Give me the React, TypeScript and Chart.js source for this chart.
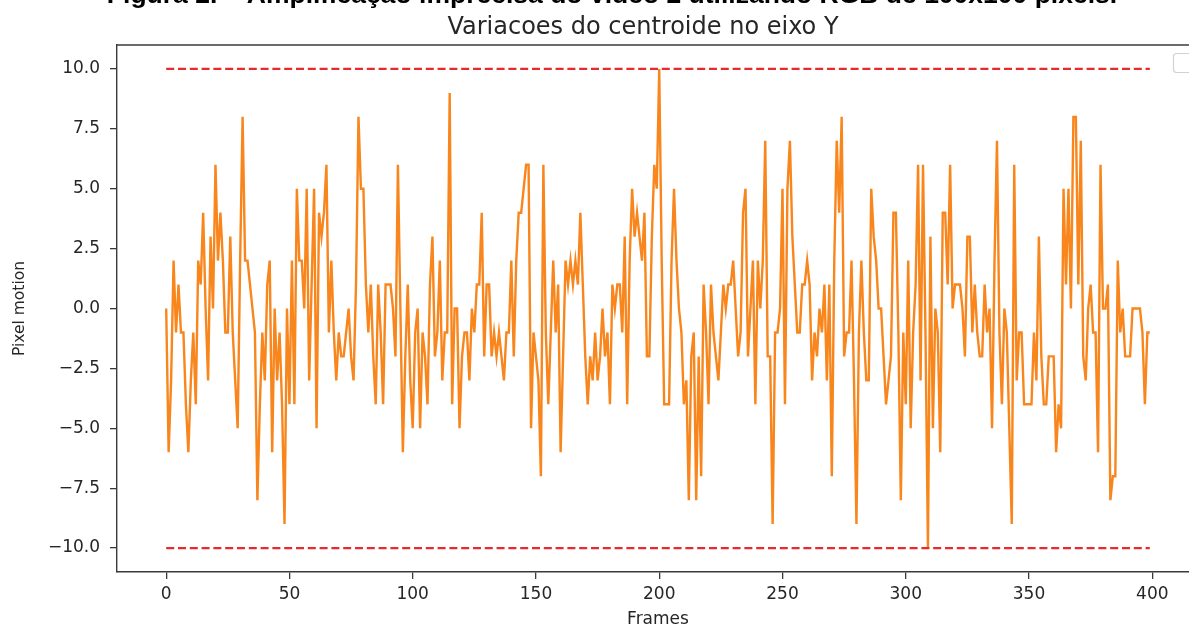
import React, { useEffect, useRef } from "react";
import { Chart, registerables } from "chart.js";

Chart.register(...registerables);

// ---- data ----
const captionText = "Figura 2. – Amplificação imprecisa do vídeo 2 utilizando RGB de 100x100 pixels.";
const chartTitle = "Variacoes do centroide no eixo Y";
const xAxisLabel = "Frames";
const yAxisLabel = "Pixel motion";

const xTicks = [0, 50, 100, 150, 200, 250, 300, 350, 400];
const yTicks = [-10, -7.5, -5, -2.5, 0, 2.5, 5, 7.5, 10];

const upperLimit = 10;
const lowerLimit = -10;

const motionY = [
  0, -6, -3, 2, -1, 1, -1, -1, -4, -6,
  -3, -1, -4, 2, 1, 4, 0, -3, 3, 0,
  6, 2, 4, 2, -1, -1, 3, -1, -3, -5,
  2, 8, 2, 2, 1, 0, -1, -8, -4, -1,
  -3, 1, 2, -6, 0, -3, -1, -4, -9,
  0, -4, 2, -4, 5, 2, 2, 0, 5, -3,
  1, 5, -5, 4, 3, 4, 6, -1, 2, -1,
  -3, -1, -2, -2, -1, 0, -2, -3, 1, 8,
  5, 5, 1, -1, 1, -2, -4, 1, -1, -4,
  1, 1, 1, 0, -2, 6, 0, -6, -2, 1,
  -3, -5, -1, 0, -5, -1, -2, -4, 1, 3,
  -2, -1, 2, -3, -1, -1, 9, -4, 0, 0,
  -5, -2, -1, -1, -3, 0, -1, 1, 1, 4,
  -2, 1, 1, -2, -1, -2, -1, -2, -3, -1,
  -1, 2, -2, 2, 4, 4, 5, 6, 6, -5, -1,
  -2, -3, -7, 6, -1, -4, -1, 2, -1, 1,
  -6, -2, 2, 1, 2, 1, 2, 1, 4, 1,
  -2, -4, -2, -3, -1, -3, -2, 0, -2, -1,
  -4, 1, 0, 1, 1, -1, 3, -4, 2, 5,
  3, 4, 3, 2, 4, -2, -2, 3, 6, 5, 10,
  2, -4, -4, -4, 2, 5, 2, 0, -1, -4,
  -3, -8, -2, -1, -8, -2, -7, 1, -1, -4,
  1, -1, -2, -3, -1, 1, 0, 1, 1, 2,
  0, -2, -1, 4, 5, -2, 0, 2, -4, 2,
  0, 2, 7, -2, -2, -9, -1, -1, 0, 5,
  -4, 5, 7, 3, 1, -1, -1, 1, 1, 2,
  1, -3, -1, -2, 0, -1, 1, -3, 1, -7,
  2, 7, 4, 8, -2, -1, -1, 2, -3, -9,
  -1, 2, -1, -3, -3, 5, 3, 2, 0, 0,
  -2, -4, -3, -2, 4, 4, -1, -8, -1, -4, 2,
  -5, -1, 1, 6, -3, 6, -1, -10, 3, -5,
  0, -1, -6, 4, 4, 1, 6, 0, 1, 1,
  1, 0, -2, 3, 3, -1, 1, -1, -2, -2,
  1, -1, 0, -5, 2, 7, -1, -4, 0, -1,
  -5, -9, 6, -3, -1, -1, -4, -4, -4, -4,
  -1, -3, 3, -2, -4, -4, -2, -2, -2, -6,
  -4, -5, 5, 1, 5, 0, 8, 8, 1, 7,
  -2, -3, 0, 1, -1, -1, -6, 6, 0, 0,
  1, -8, -7, -7, 2, -1, 0, -2, -2, -2,
  0, 0, 0, 0, -1, -4, -1, -1,
];

const CANVAS_W = 1215;
const CANVAS_H = 630;

const fmtY = (v: number) => {
  const s = Number(v).toFixed(1);
  return v < 0 ? "\u2212" + s.slice(1) : s;
};

const decorPlugin = {
  id: "decor",
  beforeDraw(chart: any) {
    const ctx = chart.ctx;
    ctx.save();
    ctx.fillStyle = "#ffffff";
    ctx.fillRect(0, 0, chart.width, chart.height);
    ctx.restore();
  },
  afterDraw(chart: any) {
    const ctx = chart.ctx;
    const area = chart.chartArea;
    ctx.save();
    // caption (cut off at top)
    ctx.fillStyle = "#000000";
    ctx.font = "bold 20px 'Liberation Sans', Arial, sans-serif";
    const w20 = ctx.measureText(captionText).width;
    const size = (20 * 1011) / w20;
    ctx.font = `bold ${size}px 'Liberation Sans', Arial, sans-serif`;
    ctx.textAlign = "center";
    ctx.textBaseline = "alphabetic";
    ctx.fillText(captionText, 612, 3);
    // title
    ctx.fillStyle = "#262626";
    ctx.font = "24px 'DejaVu Sans', sans-serif";
    ctx.textBaseline = "middle";
    ctx.fillText(chartTitle, 643, 28);
    // top spine
    ctx.strokeStyle = "#3a3a3a";
    ctx.lineWidth = 1.4;
    ctx.beginPath();
    ctx.moveTo(area.left, area.top);
    ctx.lineTo(area.right, area.top);
    ctx.stroke();
    // empty legend box
    ctx.strokeStyle = "#d2d2d2";
    ctx.lineWidth = 1.2;
    ctx.beginPath();
    ctx.roundRect(1173.5, 53.5, 30, 19, 3);
    ctx.stroke();
    ctx.restore();
  },
};

export default function App() {
  const ref = useRef<HTMLCanvasElement | null>(null);
  useEffect(() => {
    if (!ref.current) return;
    const chart = new Chart(ref.current, {
      type: "line",
      data: {
        datasets: [
          {
            label: "motion",
            data: motionY.map((v, i) => ({ x: i, y: v })),
            borderColor: "#f8861c",
            borderWidth: 2.4,
            pointRadius: 0,
            tension: 0,
            order: 2,
          },
          {
            label: "upper",
            data: [
              { x: 0, y: upperLimit },
              { x: motionY.length - 1, y: upperLimit },
            ],
            borderColor: "#e52b2b",
            borderWidth: 2.2,
            borderDash: [8, 3.8],
            pointRadius: 0,
            order: 1,
          },
          {
            label: "lower",
            data: [
              { x: 0, y: lowerLimit },
              { x: motionY.length - 1, y: lowerLimit },
            ],
            borderColor: "#e52b2b",
            borderWidth: 2.2,
            borderDash: [8, 3.8],
            pointRadius: 0,
            order: 1,
          },
        ],
      },
      options: {
        responsive: false,
        animation: false,
        devicePixelRatio: 1,
        layout: { padding: { top: 45, left: 0, right: CANVAS_W - 1199, bottom: 0 } },
        plugins: {
          legend: { display: false },
          title: { display: false },
          tooltip: { enabled: false },
        },
        scales: {
          x: {
            type: "linear",
            min: -19.95,
            max: 418.95,
            afterBuildTicks: (s: any) => {
              s.ticks = xTicks.map((v) => ({ value: v }));
            },
            afterFit: (s: any) => {
              s.height = 58;
            },
            grid: {
              drawOnChartArea: false,
              drawTicks: true,
              tickLength: 7,
              color: "#3a3a3a",
              lineWidth: 1.3,
            },
            border: { display: true, color: "#3a3a3a", width: 1.4 },
            ticks: {
              autoSkip: false,
              maxRotation: 0,
              padding: 5,
              color: "#262626",
              font: { family: "'DejaVu Sans', sans-serif", size: 17 },
              callback: (v: any) => String(v),
            },
            title: {
              display: true,
              text: xAxisLabel,
              color: "#262626",
              font: { family: "'DejaVu Sans', sans-serif", size: 17 },
              padding: { top: 0, bottom: 0 },
            },
          },
          y: {
            type: "linear",
            min: -11,
            max: 11,
            afterBuildTicks: (s: any) => {
              s.ticks = yTicks.map((v) => ({ value: v }));
            },
            afterFit: (s: any) => {
              s.width = 117;
            },
            grid: {
              drawOnChartArea: false,
              drawTicks: true,
              tickLength: 7,
              color: "#3a3a3a",
              lineWidth: 1.3,
            },
            border: { display: true, color: "#3a3a3a", width: 1.4 },
            ticks: {
              autoSkip: false,
              padding: 10,
              color: "#262626",
              font: { family: "'DejaVu Sans', sans-serif", size: 17 },
              callback: (v: any) => fmtY(Number(v)),
            },
            title: {
              display: true,
              text: yAxisLabel,
              color: "#262626",
              font: { family: "'DejaVu Sans', sans-serif", size: 15.5 },
              padding: { top: 11, bottom: 0 },
            },
          },
        },
      },
      plugins: [decorPlugin],
    } as any);
    return () => chart.destroy();
  }, []);

  return (
    <div
      style={{
        position: "fixed",
        left: 0,
        top: 0,
        width: "1189px",
        height: "630px",
        overflow: "hidden",
        background: "#ffffff",
      }}
    >
      <canvas
        ref={ref}
        width={CANVAS_W}
        height={CANVAS_H}
        style={{ position: "absolute", left: 0, top: 0, width: CANVAS_W + "px", height: CANVAS_H + "px" }}
      />
    </div>
  );
}
